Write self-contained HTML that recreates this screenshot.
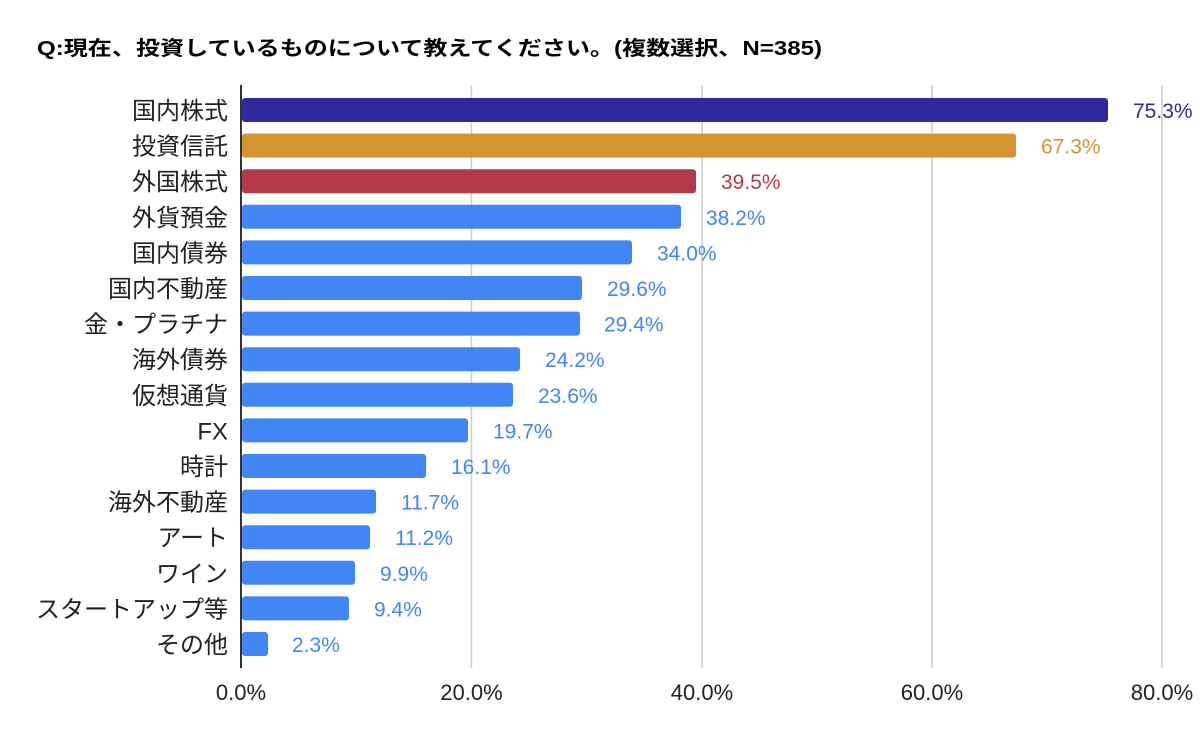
<!DOCTYPE html><html><head><meta charset="utf-8"><style>body{margin:0;background:#fff}</style></head><body>
<svg width="1200" height="741" xmlns="http://www.w3.org/2000/svg" font-family="'Liberation Sans','Noto Sans CJK JP',sans-serif">
<rect width="1200" height="741" fill="#fff"/>
<text x="37" y="55" font-size="20" font-weight="bold" fill="#000" textLength="785" lengthAdjust="spacingAndGlyphs">Q:現在、投資しているものについて教えてください。(複数選択、N=385)</text>
<g stroke="#ccc" stroke-width="1.5">
<line x1="471.5" y1="85" x2="471.5" y2="668"/><line x1="702" y1="85" x2="702" y2="668"/><line x1="932" y1="85" x2="932" y2="668"/><line x1="1162" y1="85" x2="1162" y2="668"/>
</g>
<g font-size="22" text-anchor="middle" fill="#222">
<text x="241" y="700">0.0%</text><text x="471.5" y="700">20.0%</text><text x="702" y="700">40.0%</text><text x="932" y="700">60.0%</text><text x="1162" y="700">80.0%</text>
</g>
<g>
<rect x="242" y="98" width="866" height="24" rx="3" fill="#2e2a9e"/>
<rect x="242" y="133.6" width="774" height="24" rx="3" fill="#d39430"/>
<rect x="242" y="169.2" width="454" height="24" rx="3" fill="#b23a48"/>
<rect x="242" y="204.8" width="439" height="24" rx="3" fill="#4285f4"/>
<rect x="242" y="240.4" width="390" height="24" rx="3" fill="#4285f4"/>
<rect x="242" y="276" width="340" height="24" rx="3" fill="#4285f4"/>
<rect x="242" y="311.6" width="338" height="24" rx="3" fill="#4285f4"/>
<rect x="242" y="347.2" width="278" height="24" rx="3" fill="#4285f4"/>
<rect x="242" y="382.8" width="271" height="24" rx="3" fill="#4285f4"/>
<rect x="242" y="418.4" width="226" height="24" rx="3" fill="#4285f4"/>
<rect x="242" y="454" width="184" height="24" rx="3" fill="#4285f4"/>
<rect x="242" y="489.6" width="134" height="24" rx="3" fill="#4285f4"/>
<rect x="242" y="525.2" width="128" height="24" rx="3" fill="#4285f4"/>
<rect x="242" y="560.8" width="113" height="24" rx="3" fill="#4285f4"/>
<rect x="242" y="596.4" width="107" height="24" rx="3" fill="#4285f4"/>
<rect x="242" y="632" width="26" height="24" rx="3" fill="#4285f4"/>
</g>
<g font-size="24" text-anchor="end" fill="#222">
<text x="228" y="119">国内株式</text>
<text x="228" y="154.6">投資信託</text>
<text x="228" y="190.2">外国株式</text>
<text x="228" y="225.8">外貨預金</text>
<text x="228" y="261.4">国内債券</text>
<text x="228" y="297">国内不動産</text>
<text x="228" y="332.6">金・プラチナ</text>
<text x="228" y="368.2">海外債券</text>
<text x="228" y="403.8">仮想通貨</text>
<text x="228" y="439.4">FX</text>
<text x="228" y="475">時計</text>
<text x="228" y="510.6">海外不動産</text>
<text x="228" y="546.2">アート</text>
<text x="228" y="581.8">ワイン</text>
<text x="228" y="617.4">スタートアップ等</text>
<text x="228" y="653">その他</text>
</g>
<g font-size="21" fill="#4285f4">
<text x="1133" y="118" fill="#2e2a9e">75.3%</text>
<text x="1041" y="153.6" fill="#d39430">67.3%</text>
<text x="721" y="189.2" fill="#b23a48">39.5%</text>
<text x="706" y="224.8">38.2%</text>
<text x="657" y="260.4">34.0%</text>
<text x="607" y="296">29.6%</text>
<text x="604" y="331.6">29.4%</text>
<text x="545" y="367.2">24.2%</text>
<text x="538" y="402.8">23.6%</text>
<text x="493" y="438.4">19.7%</text>
<text x="451" y="474">16.1%</text>
<text x="401" y="509.6">11.7%</text>
<text x="395" y="545.2">11.2%</text>
<text x="380" y="580.8">9.9%</text>
<text x="374" y="616.4">9.4%</text>
<text x="292" y="652">2.3%</text>
</g>
<line x1="241" y1="85" x2="241" y2="668" stroke="#333" stroke-width="2"/>
</svg></body></html>
